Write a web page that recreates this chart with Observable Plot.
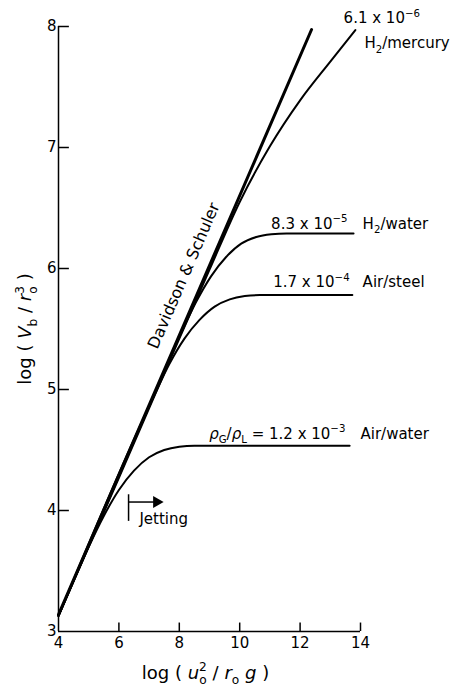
<!DOCTYPE html>
<html>
<head>
<meta charset="utf-8">
<script src="https://cdn.jsdelivr.net/npm/d3@7"></script>
<script src="https://cdn.jsdelivr.net/npm/@observablehq/plot@0.6"></script>
<style>
  html, body { margin: 0; padding: 0; background: #fff; }
  svg { display: block; }
</style>
</head>
<body>
<script>
// ---- ticks ----
const xTicks = [4, 6, 8, 10, 12, 14];
const yTicks = [3, 4, 5, 6, 7, 8];

// ---- Davidson & Schuler line ----
const dsX = [4, 12.38];
const dsY = [3.14, 7.975];

// ---- curves ----
const mercuryX = [4, 6, 8, 9, 10, 11, 12, 13, 13.83];
const mercuryY = [3.13, 4.27, 5.42, 5.99, 6.55, 7.01, 7.39, 7.71, 7.97];

const h2waterX = [4, 7, 8.05, 8.55, 9.05, 9.55, 10.05, 10.55, 11.05, 11.55, 13.77];
const h2waterY = [3.13, 4.86, 5.46, 5.72, 5.935, 6.095, 6.205, 6.26, 6.283, 6.29, 6.29];

const steelX = [4, 7, 7.17, 7.67, 8.17, 8.67, 9.17, 9.67, 10.17, 10.67, 13.73];
const steelY = [3.13, 4.86, 4.95, 5.21, 5.42, 5.575, 5.685, 5.745, 5.772, 5.78, 5.78];

const airwaterX = [4, 4.5, 5, 5.5, 6, 6.5, 7, 7.5, 8, 8.5, 13.64];
const airwaterY = [3.13, 3.42, 3.70, 3.955, 4.17, 4.33, 4.44, 4.50, 4.527, 4.535, 4.535];

// ---- annotation labels ----
const ratioText = ["6.1 x 10^{\u22126}", "8.3 x 10^{\u22125}", "1.7 x 10^{\u22124}", "*\u03c1*_{G}/*\u03c1*_{L} = 1.2 x 10^{\u22123}"];
const ratioX = [15.97, 13.57, 13.64, 13.50];
const ratioY = [8.025, 6.33, 5.843, 4.595];

const pairText = ["H_{2}/mercury", "H_{2}/water", "Air/steel", "Air/water"];
const pairX = [14.13, 14.07, 14.07, 14.0];
const pairY = [7.82, 6.33, 5.843, 4.595];

const dsLabel = ["Davidson & Schuler"];
const dsLabelX = [8.15];
const dsLabelY = [5.94];

// Jetting marker
const jetX = [6.32];
const jetY1 = [3.91];
const jetY2 = [4.13];
const jetArrowY = [4.07];
const jetArrowX2 = [7.25];
const jetLabel = ["Jetting"];
const jetLabelX = [6.68];
const jetLabelY = [3.89];

// build long table
const series = [
  ["H2/mercury", mercuryX, mercuryY],
  ["H2/water", h2waterX, h2waterY],
  ["Air/steel", steelX, steelY],
  ["Air/water", airwaterX, airwaterY]
];
const curves = series.flatMap(([name, xs, ys]) => xs.map((x, i) => ({series: name, x, y: ys[i]})));
const ds = dsX.map((x, i) => ({x, y: dsY[i]}));

const FONT = "DejaVu Sans";

const svg = Plot.plot({
  width: 454,
  height: 689,
  marginLeft: 58,
  marginRight: 94,
  marginTop: 26,
  marginBottom: 58,
  x: {domain: [4, 14], axis: null},
  y: {domain: [3, 8], axis: null},
  style: {fontFamily: FONT, background: "white", color: "black", overflow: "visible"},
  marks: [
    // axes
    Plot.ruleX([4], {y1: 3, y2: 8, stroke: "black", strokeWidth: 1.5}),
    Plot.ruleY([3], {x1: 4, x2: 14, stroke: "black", strokeWidth: 1.5}),
    Plot.ruleY(yTicks.filter(d => d > 3), {y: d => d, x1: 4, x2: 4.36, stroke: "black", strokeWidth: 1.5}),
    Plot.ruleX(xTicks.filter(d => d > 4), {x: d => d, y1: 3, y2: 3.07, stroke: "black", strokeWidth: 1.5}),
    Plot.text(yTicks, {x: 4, y: d => d, text: d => String(d), textAnchor: "end", dx: -2, fontSize: 15, fill: "black"}),
    Plot.text(xTicks, {x: d => d, y: 3, text: d => String(d), lineAnchor: "top", dy: 6, fontSize: 15, fill: "black"}),
    // axis titles
    Plot.text(["log ( *V*_{b} / *r*_{o}^{3} )"], {frameAnchor: "left", dx: -33, rotate: -90, textAnchor: "middle", lineAnchor: "middle", fontSize: 18, fill: "black"}),
    Plot.text(["log ( *u*_{o}^{2} / *r*_{o} *g* )"], {frameAnchor: "bottom", dx: -4, dy: 47, lineAnchor: "bottom", textAnchor: "middle", fontSize: 18, fill: "black"}),
    // data
    Plot.line(ds, {x: "x", y: "y", stroke: "black", strokeWidth: 3}),
    Plot.line(curves, {x: "x", y: "y", z: "series", stroke: "black", strokeWidth: 2, curve: "monotone-x"}),
    // annotations
    Plot.text(ratioText, {x: (d, i) => ratioX[i], y: (d, i) => ratioY[i], text: d => d, textAnchor: "end", lineAnchor: "bottom", fontSize: 15, fill: "black"}),
    Plot.text(pairText, {x: (d, i) => pairX[i], y: (d, i) => pairY[i], text: d => d, textAnchor: "start", lineAnchor: "bottom", fontSize: 15, fill: "black"}),
    Plot.text(dsLabel, {x: (d, i) => dsLabelX[i], y: (d, i) => dsLabelY[i], text: d => d, rotate: -66.6, textAnchor: "middle", lineAnchor: "middle", fontSize: 16, fill: "black"}),
    Plot.ruleX(jetX, {x: d => d, y1: jetY1[0], y2: jetY2[0], stroke: "black", strokeWidth: 1.5}),
    Plot.ruleY(jetArrowY, {y: d => d, x1: jetX[0], x2: jetArrowX2[0], stroke: "black", strokeWidth: 1.5}),
    Plot.dot(jetArrowY, {y: d => d, x: jetArrowX2[0], symbol: "triangle", rotate: 90, r: 4.5, fill: "black", stroke: "none"}),
    Plot.text(jetLabel, {x: (d, i) => jetLabelX[i], y: (d, i) => jetLabelY[i], text: d => d, textAnchor: "start", lineAnchor: "bottom", fontSize: 15, fill: "black"})
  ]
});

document.body.appendChild(svg);

// rich text: *italic*, _{sub}, ^{sup}
const NS = "http://www.w3.org/2000/svg";
function rich(el) {
  const s = el.textContent;
  if (!/[*_^]/.test(s)) return;
  const fs = parseFloat(getComputedStyle(el).fontSize) || 15;
  el.textContent = "";
  const re = /\*([^*]+)\*|([_^])\{([^}]*)\}|([^*_^]+)/g;
  let m, cur = 0, prevKind = null, prevW = 0;
  while ((m = re.exec(s))) {
    const t = document.createElementNS(NS, "tspan");
    let target = 0, kind = null;
    if (m[1] != null) {
      t.textContent = m[1];
      t.setAttribute("font-style", "italic");
    } else if (m[2]) {
      kind = m[2];
      t.textContent = m[3];
      t.setAttribute("font-size", (0.68 * fs).toFixed(1));
      target = kind === "^" ? -0.42 * fs : 0.3 * fs;
      if (kind === "^" && prevKind === "_") t.setAttribute("dx", (-prevW).toFixed(1));
    } else {
      t.textContent = m[4];
    }
    if (target !== cur) { t.setAttribute("dy", (target - cur).toFixed(1)); cur = target; }
    el.appendChild(t);
    prevW = kind ? t.getComputedTextLength() : 0;
    prevKind = kind;
  }
}
svg.querySelectorAll("text").forEach(rich);
</script>
</body>
</html>
